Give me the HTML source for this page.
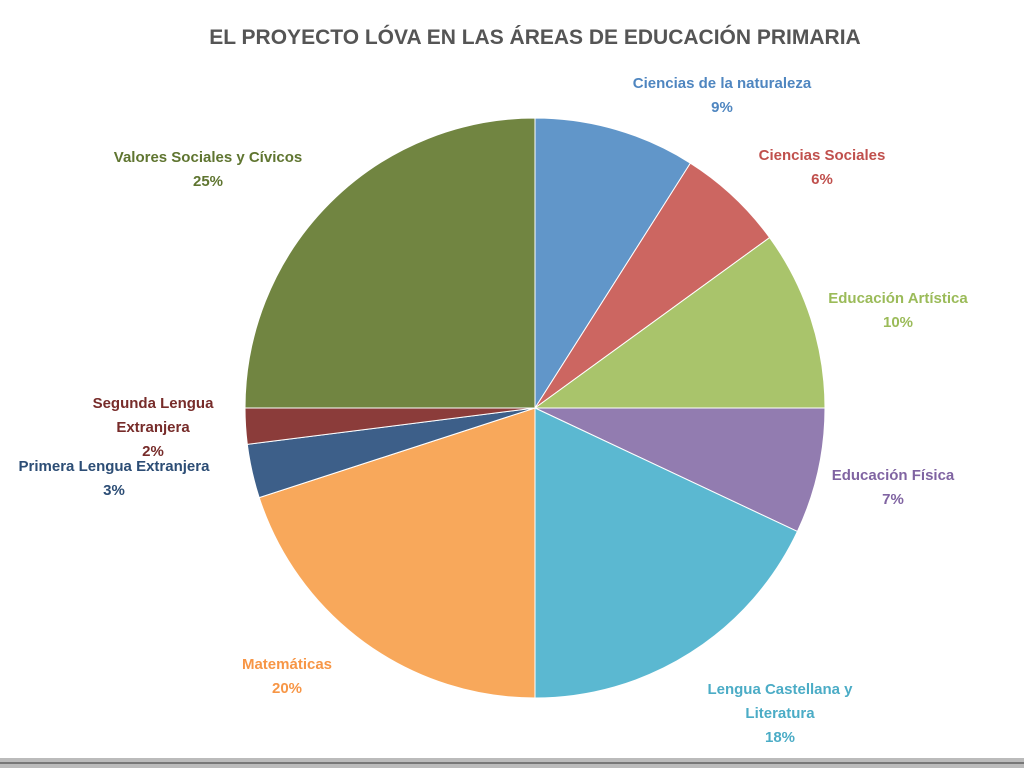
<!DOCTYPE html>
<html><head><meta charset="utf-8"><style>
body{margin:0;width:1024px;height:768px;background:#fff;overflow:hidden;font-family:"Liberation Sans",sans-serif}
svg{display:block}
</style></head><body>
<svg id="chart" width="1024" height="768">
<text x="535" y="44" text-anchor="middle" font-size="21" font-weight="bold" fill="#555">EL PROYECTO LÓVA EN LAS ÁREAS DE EDUCACIÓN PRIMARIA</text>
<g id="slices"></g><g id="labels"></g>
<rect x="0" y="758" width="1024" height="10" fill="#bbb"/>
<rect x="0" y="762" width="1024" height="2" fill="#777"/>
</svg>
<script>
const categories=["Ciencias de la naturaleza","Ciencias Sociales","Educación Artística","Educación Física","Lengua Castellana y Literatura","Matemáticas","Primera Lengua Extranjera","Segunda Lengua Extranjera","Valores Sociales y Cívicos"];
const values=[9,6,10,7,18,20,3,2,25];
const colors=["#6196c9","#cc6661","#a9c46b","#927cb0","#5bb8d1","#f8a85b","#3d5f89","#8b3c3a","#718541"];
const labelPos=[[722,88],[822,160],[898,303],[893,480],[780,694],[287,669],[114,471],[153,408],[208,162]];
const labelLines=[["Ciencias de la naturaleza"],["Ciencias Sociales"],["Educación Artística"],["Educación Física"],["Lengua Castellana y","Literatura"],["Matemáticas"],["Primera Lengua Extranjera"],["Segunda Lengua","Extranjera"],["Valores Sociales y Cívicos"]];
const textColors=["#4f86c0","#c0504d","#9bbb59","#8064a2","#4bacc6","#f79646","#2c4d75","#772c2a","#5f7530"];
const cx=535,cy=408,r=290,NS="http://www.w3.org/2000/svg";
const total=values.reduce((a,b)=>a+b,0);
function pt(a){return [cx+r*Math.sin(a),cy-r*Math.cos(a)];}
let a0=0;const gs=document.getElementById('slices'),gl=document.getElementById('labels');
values.forEach((v,i)=>{
 const a1=a0+v/total*2*Math.PI;const p0=pt(a0),p1=pt(a1);
 const p=document.createElementNS(NS,'path');
 p.setAttribute('d',`M${cx},${cy}L${p0[0]},${p0[1]}A${r},${r} 0 ${a1-a0>Math.PI?1:0} 1 ${p1[0]},${p1[1]}Z`);
 p.setAttribute('fill',colors[i]);p.setAttribute('stroke','#fff');p.setAttribute('stroke-width','1');
 
 
 gs.appendChild(p);
 const t=document.createElementNS(NS,'text');
 t.setAttribute('text-anchor','middle');t.setAttribute('font-size','15');t.setAttribute('font-weight','bold');t.setAttribute('fill',textColors[i]);
 
 
 const lines=labelLines[i].concat([v+'%']);
 lines.forEach((s,j)=>{const ts=document.createElementNS(NS,'tspan');ts.setAttribute('x',labelPos[i][0]);ts.setAttribute('y',labelPos[i][1]+j*24);ts.textContent=s;t.appendChild(ts);});
 gl.appendChild(t);
 a0=a1;
});
</script>
</body></html>
